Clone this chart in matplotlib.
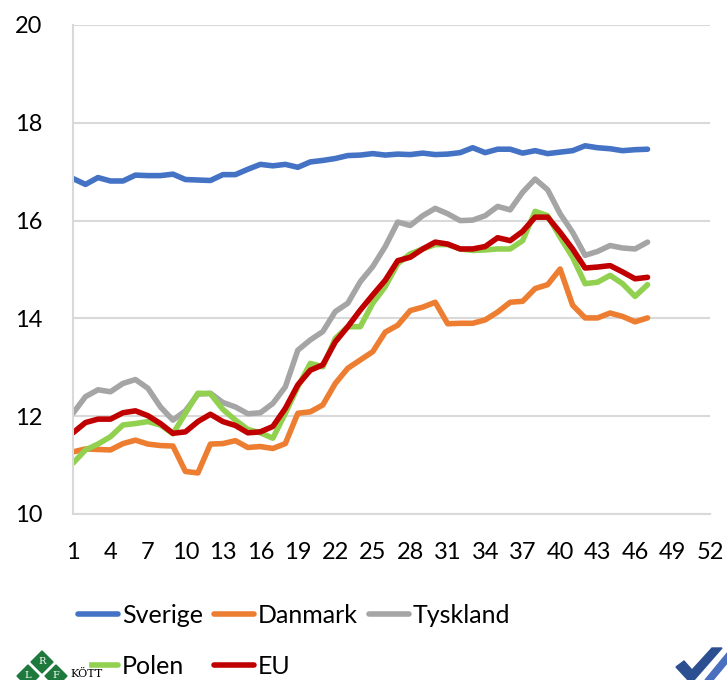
import numpy as np
import matplotlib
matplotlib.use('Agg')
import matplotlib.pyplot as plt
from matplotlib.patches import Polygon

plt.rcParams['font.family'] = ['Lato', 'DejaVu Sans']

# --- data ---
weeks = list(range(1, 48))

sverige = [16.86, 16.74, 16.88, 16.81, 16.81, 16.93, 16.92, 16.92, 16.95, 16.84,
           16.83, 16.82, 16.94, 16.94, 17.05, 17.15, 17.12, 17.15, 17.09, 17.20,
           17.23, 17.27, 17.33, 17.34, 17.37, 17.34, 17.36, 17.35, 17.38, 17.35,
           17.36, 17.39, 17.49, 17.39, 17.46, 17.46, 17.38, 17.43, 17.37, 17.40,
           17.43, 17.53, 17.49, 17.47, 17.43, 17.45, 17.46]
danmark = [11.27, 11.33, 11.32, 11.31, 11.44, 11.51, 11.43, 11.40, 11.39, 10.87,
           10.84, 11.43, 11.44, 11.50, 11.36, 11.38, 11.34, 11.44, 12.06, 12.09,
           12.23, 12.67, 12.98, 13.15, 13.32, 13.72, 13.86, 14.16, 14.23, 14.33,
           13.89, 13.90, 13.90, 13.97, 14.13, 14.33, 14.35, 14.61, 14.69, 15.01,
           14.27, 14.01, 14.01, 14.11, 14.04, 13.93, 14.01]
tyskland = [12.06, 12.40, 12.54, 12.50, 12.67, 12.75, 12.57, 12.19, 11.92, 12.11,
            12.45, 12.47, 12.28, 12.19, 12.05, 12.07, 12.26, 12.60, 13.35, 13.56,
            13.73, 14.14, 14.31, 14.75, 15.06, 15.47, 15.97, 15.90, 16.10, 16.25,
            16.14, 16.00, 16.01, 16.10, 16.29, 16.22, 16.58, 16.85, 16.63, 16.14,
            15.76, 15.29, 15.37, 15.49, 15.44, 15.42, 15.56]
polen = [11.04, 11.31, 11.43, 11.58, 11.82, 11.85, 11.89, 11.82, 11.64, 12.06,
         12.47, 12.46, 12.14, 11.92, 11.73, 11.66, 11.55, 12.06, 12.60, 13.08,
         13.01, 13.59, 13.83, 13.83, 14.31, 14.65, 15.12, 15.32, 15.42, 15.51,
         15.51, 15.42, 15.39, 15.40, 15.42, 15.42, 15.59, 16.19, 16.10, 15.66,
         15.25, 14.71, 14.74, 14.88, 14.71, 14.45, 14.69]
eu = [11.66, 11.87, 11.94, 11.94, 12.07, 12.11, 12.01, 11.85, 11.65, 11.68,
      11.89, 12.04, 11.89, 11.81, 11.66, 11.68, 11.79, 12.16, 12.64, 12.94,
      13.05, 13.52, 13.83, 14.17, 14.48, 14.78, 15.18, 15.25, 15.42, 15.56,
      15.52, 15.42, 15.42, 15.47, 15.65, 15.59, 15.78, 16.07, 16.07, 15.76,
      15.42, 15.03, 15.05, 15.08, 14.95, 14.81, 14.84]

series = [
    ("Sverige", sverige, "#4472C4"),
    ("Danmark", danmark, "#ED7D31"),
    ("Tyskland", tyskland, "#A5A5A5"),
    ("Polen", polen, "#92D050"),
    ("EU", eu, "#C00000"),
]

W, H = 727, 680
fig = plt.figure(figsize=(W / 100, H / 100), dpi=100)
ax = fig.add_axes([73 / W, 1 - 514 / H, (710 - 73) / W, (514 - 25) / H])

lines = {}
for name, vals, col in series:
    lines[name], = ax.plot(weeks, vals, color=col, lw=4, label=name,
                           solid_capstyle='round', solid_joinstyle='round')

ax.set_xlim(1, 52)
ax.set_ylim(10, 20)
ax.set_xticks(range(1, 53, 3))
ax.set_yticks(range(10, 21, 2))
ax.grid(axis='y', color='#d9d9d9', lw=1.5)
ax.set_axisbelow(True)
for s in ['top', 'right']:
    ax.spines[s].set_visible(False)
for s in ['left', 'bottom']:
    ax.spines[s].set_color('#d9d9d9')
    ax.spines[s].set_linewidth(1.5)
ax.tick_params(length=0, labelsize=17, colors='black')
ax.tick_params(axis='y', pad=22)
ax.tick_params(axis='x', pad=20)

# matplotlib fills legend columns first, so order for row-wise reading
order = ["Sverige", "Polen", "Danmark", "EU", "Tyskland"]
fig.legend([lines[n] for n in order], order, loc='upper left',
           bbox_to_anchor=(68 / W, 1 - 594 / H), ncol=3,
           frameon=False, fontsize=18, handlelength=1.6, handletextpad=0.15,
           columnspacing=0.45, labelspacing=1.1, borderaxespad=0)

# logo approximations at the bottom corners
fax = fig.add_axes([0, 0, 1, 1])
fax.set_zorder(10)
fax.set_xlim(0, W)
fax.set_ylim(H, 0)
fax.axis('off')
fax.add_patch(plt.Rectangle((8, 645), 80, 40, color='white', zorder=1))
for cx, cy, letter in [(42, 662, 'R'), (28, 676, 'L'), (56, 676, 'F')]:
    fax.add_patch(Polygon([[cx, cy - 11], [cx + 11, cy], [cx, cy + 11], [cx - 11, cy]],
                          closed=True, color='#1E7A3C', zorder=2))
    fax.text(cx, cy - 1, letter, color='white', fontsize=7, ha='center', va='center',
             family='DejaVu Serif', zorder=3)
fax.text(70, 679, 'KÖTT', fontsize=8, family='DejaVu Serif', va='bottom', zorder=3)
fax.add_patch(Polygon([[676, 667], [684, 661], [692, 670], [712, 648], [722, 648], [694, 680], [688, 680]],
                      closed=True, color='#2B4F91', zorder=2))
fax.add_patch(Polygon([[705, 680], [728, 652], [728, 662], [713, 680]],
                      closed=True, color='#4A6FBF', zorder=2))

fig.savefig('out.png', dpi=100)
